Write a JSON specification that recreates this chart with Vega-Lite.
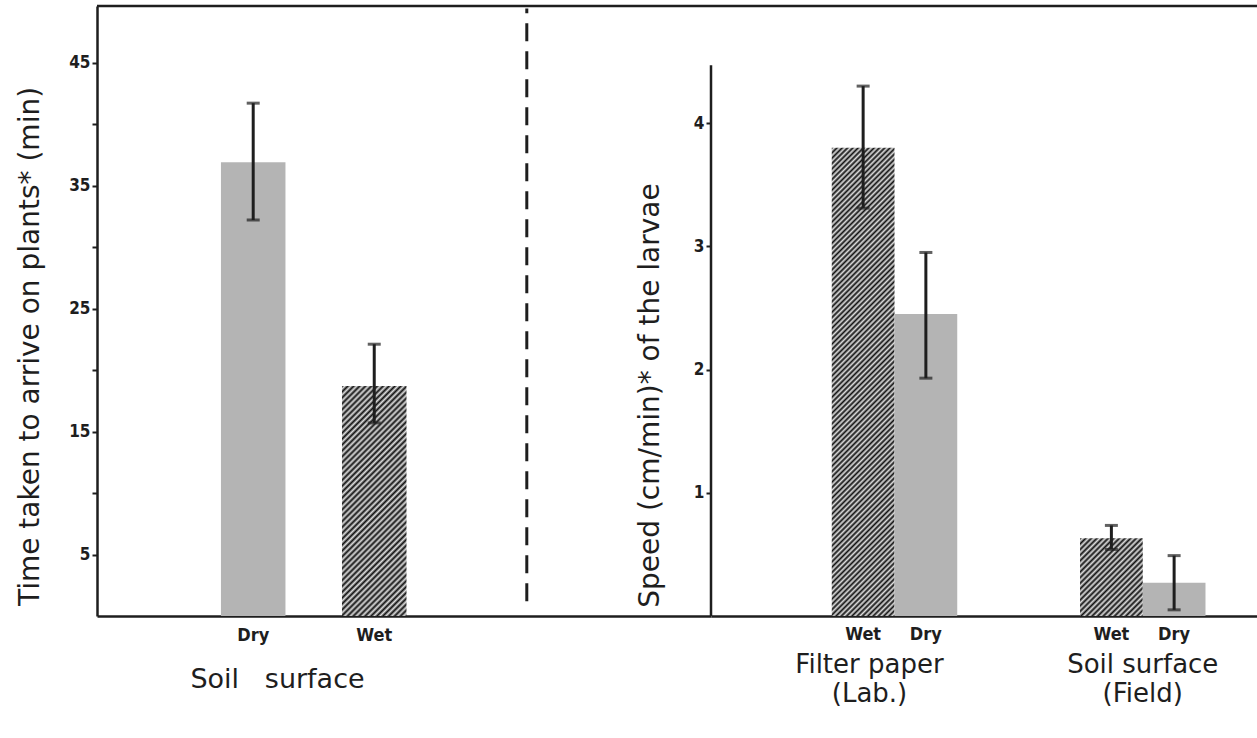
{
  "$schema": "https://vega.github.io/schema/vega-lite/v6.json",
  "padding": {"left": 16, "top": 4, "right": 0, "bottom": 5},
  "background": "white",
  "spacing": 0,
  "bounds": "flush",
  "datasets": {
    "time": [
      {"surface": "Soil surface", "condition": "Dry", "time": 36.9, "low": 32.2, "high": 41.7},
      {"surface": "Soil surface", "condition": "Wet", "time": 18.7, "low": 15.7, "high": 22.1}
    ],
    "speed": [
      {"substrate": "Filter paper (Lab.)", "condition": "Wet", "speed": 3.80, "low": 3.31, "high": 4.30},
      {"substrate": "Filter paper (Lab.)", "condition": "Dry", "speed": 2.45, "low": 1.93, "high": 2.95},
      {"substrate": "Soil surface (Field)", "condition": "Wet", "speed": 0.63, "low": 0.54, "high": 0.735},
      {"substrate": "Soil surface (Field)", "condition": "Dry", "speed": 0.27, "low": 0.05, "high": 0.49}
    ]
  },
  "config": {
    "view": {"stroke": null},
    "axis": {
      "grid": false,
      "domainColor": "#1e1e1e",
      "domainWidth": 2.5,
      "tickColor": "#1e1e1e",
      "labelColor": "#1e1e1e",
      "titleColor": "#1e1e1e"
    }
  },
  "hconcat": [
    {
      "width": 614,
      "height": 610,
      "layer": [
        {
          "data": {"name": "time"},
          "layer": [
            {
              "mark": {"type": "bar"},
              "encoding": {
                "x": {
                  "field": "condition", "type": "nominal",
                  "scale": {"domain": ["Dry", "Wet", " ", "  "], "paddingInner": 0.467, "paddingOuter": 0.77, "align": 0.665, "round": false},
                  "axis": {
                    "title": "Soil \u00a0 surface",
                    "titleFont": "DejaVu Sans", "titleFontSize": 27, "titleFontWeight": "normal",
                    "titleX": 180, "titlePadding": 22,
                    "labelFont": "DejaVu Sans Condensed", "labelFontSize": 18, "labelFontWeight": "bold",
                    "labelAngle": 0, "labelPadding": 10, "ticks": false, "tickSize": 0
                  }
                },
                "y": {
                  "field": "time", "type": "quantitative",
                  "scale": {"domain": [0, 49.6], "nice": false, "zero": true},
                  "axis": {
                    "title": "Time taken to arrive on plants* (min)",
                    "values": [5, 10, 15, 20, 25, 30, 35, 40, 45],
                    "labelExpr": "datum.value % 10 == 5 ? datum.label : ''",
                    "tickSize": 5, "tickWidth": 2, "labelPadding": 2,
                    "labelFont": "DejaVu Sans Condensed", "labelFontSize": 17, "labelFontWeight": "bold",
                    "titleFont": "DejaVu Sans", "titleFontSize": 28, "titleFontWeight": "normal",
                    "titleY": 340, "titlePadding": 24
                  }
                },
                "fill": {
                  "condition": {
                    "test": "datum.condition === 'Wet'",
                    "value": {
                      "gradient": "linear", "x1": 0, "y1": 0, "x2": 0.3329, "y2": 1.1871,
                      "stops": [
                        {"offset":0,"color":"#111"},{"offset":0.01,"color":"#ddd"},{"offset":0.02,"color":"#111"},{"offset":0.03,"color":"#ddd"},{"offset":0.04,"color":"#111"},{"offset":0.05,"color":"#ddd"},{"offset":0.06,"color":"#111"},{"offset":0.07,"color":"#ddd"},{"offset":0.08,"color":"#111"},{"offset":0.09,"color":"#ddd"},
                        {"offset":0.10,"color":"#111"},{"offset":0.11,"color":"#ddd"},{"offset":0.12,"color":"#111"},{"offset":0.13,"color":"#ddd"},{"offset":0.14,"color":"#111"},{"offset":0.15,"color":"#ddd"},{"offset":0.16,"color":"#111"},{"offset":0.17,"color":"#ddd"},{"offset":0.18,"color":"#111"},{"offset":0.19,"color":"#ddd"},
                        {"offset":0.20,"color":"#111"},{"offset":0.21,"color":"#ddd"},{"offset":0.22,"color":"#111"},{"offset":0.23,"color":"#ddd"},{"offset":0.24,"color":"#111"},{"offset":0.25,"color":"#ddd"},{"offset":0.26,"color":"#111"},{"offset":0.27,"color":"#ddd"},{"offset":0.28,"color":"#111"},{"offset":0.29,"color":"#ddd"},
                        {"offset":0.30,"color":"#111"},{"offset":0.31,"color":"#ddd"},{"offset":0.32,"color":"#111"},{"offset":0.33,"color":"#ddd"},{"offset":0.34,"color":"#111"},{"offset":0.35,"color":"#ddd"},{"offset":0.36,"color":"#111"},{"offset":0.37,"color":"#ddd"},{"offset":0.38,"color":"#111"},{"offset":0.39,"color":"#ddd"},
                        {"offset":0.40,"color":"#111"},{"offset":0.41,"color":"#ddd"},{"offset":0.42,"color":"#111"},{"offset":0.43,"color":"#ddd"},{"offset":0.44,"color":"#111"},{"offset":0.45,"color":"#ddd"},{"offset":0.46,"color":"#111"},{"offset":0.47,"color":"#ddd"},{"offset":0.48,"color":"#111"},{"offset":0.49,"color":"#ddd"},
                        {"offset":0.50,"color":"#111"},{"offset":0.51,"color":"#ddd"},{"offset":0.52,"color":"#111"},{"offset":0.53,"color":"#ddd"},{"offset":0.54,"color":"#111"},{"offset":0.55,"color":"#ddd"},{"offset":0.56,"color":"#111"},{"offset":0.57,"color":"#ddd"},{"offset":0.58,"color":"#111"},{"offset":0.59,"color":"#ddd"},
                        {"offset":0.60,"color":"#111"},{"offset":0.61,"color":"#ddd"},{"offset":0.62,"color":"#111"},{"offset":0.63,"color":"#ddd"},{"offset":0.64,"color":"#111"},{"offset":0.65,"color":"#ddd"},{"offset":0.66,"color":"#111"},{"offset":0.67,"color":"#ddd"},{"offset":0.68,"color":"#111"},{"offset":0.69,"color":"#ddd"},
                        {"offset":0.70,"color":"#111"},{"offset":0.71,"color":"#ddd"},{"offset":0.72,"color":"#111"},{"offset":0.73,"color":"#ddd"},{"offset":0.74,"color":"#111"},{"offset":0.75,"color":"#ddd"},{"offset":0.76,"color":"#111"},{"offset":0.77,"color":"#ddd"},{"offset":0.78,"color":"#111"},{"offset":0.79,"color":"#ddd"},
                        {"offset":0.80,"color":"#111"},{"offset":0.81,"color":"#ddd"},{"offset":0.82,"color":"#111"},{"offset":0.83,"color":"#ddd"},{"offset":0.84,"color":"#111"},{"offset":0.85,"color":"#ddd"},{"offset":0.86,"color":"#111"},{"offset":0.87,"color":"#ddd"},{"offset":0.88,"color":"#111"},{"offset":0.89,"color":"#ddd"},
                        {"offset":0.90,"color":"#111"},{"offset":0.91,"color":"#ddd"},{"offset":0.92,"color":"#111"},{"offset":0.93,"color":"#ddd"},{"offset":0.94,"color":"#111"},{"offset":0.95,"color":"#ddd"},{"offset":0.96,"color":"#111"},{"offset":0.97,"color":"#ddd"},{"offset":0.98,"color":"#111"},{"offset":0.99,"color":"#ddd"},
                        {"offset":1,"color":"#111"}
                      ]
                    }
                  },
                  "value": "#b4b4b4"
                }
              }
            },
            {
              "mark": {"type": "rule", "strokeWidth": 3, "color": "#1e1e1e"},
              "encoding": {
                "x": {"field": "condition", "type": "nominal"},
                "y": {"field": "low", "type": "quantitative"},
                "y2": {"field": "high"}
              }
            },
            {
              "mark": {"type": "tick", "thickness": 3, "size": 13, "color": "#1e1e1e"},
              "encoding": {
                "x": {"field": "condition", "type": "nominal"},
                "y": {"field": "high", "type": "quantitative"}
              }
            },
            {
              "mark": {"type": "tick", "thickness": 3, "size": 13, "color": "#1e1e1e"},
              "encoding": {
                "x": {"field": "condition", "type": "nominal"},
                "y": {"field": "low", "type": "quantitative"}
              }
            }
          ]
        },
        {
          "data": {"values": [{}]},
          "mark": {"type": "rule", "strokeDash": [18, 10], "strokeWidth": 3, "color": "#1e1e1e"},
          "encoding": {
            "x": {"datum": 0.7, "type": "quantitative", "scale": {"domain": [0, 1]}, "axis": null},
            "y": {"datum": 1.2, "type": "quantitative"},
            "y2": {"datum": 49.4}
          }
        },
        {
          "data": {"values": [{}]},
          "mark": {"type": "rule", "strokeWidth": 2.5, "color": "#1e1e1e"},
          "encoding": {
            "y": {"datum": 49.6, "type": "quantitative"}
          }
        }
      ],
      "resolve": {"scale": {"x": "independent"}}
    },
    {
      "width": 546,
      "height": 610,
      "layer": [
        {
          "data": {"name": "speed"},
          "layer": [
            {
              "mark": {"type": "bar"},
              "encoding": {
                "x": {
                  "field": "substrate", "type": "nominal",
                  "scale": {"domain": ["Filter paper (Lab.)", "Soil surface (Field)"], "paddingInner": 0.4946, "paddingOuter": 0.347, "align": 0.701, "round": false},
                  "axis": {
                    "title": null,
                    "labelExpr": "[substring(datum.label, 0, indexof(datum.label, ' (')), substring(datum.label, indexof(datum.label, ' (') + 1, length(datum.label))]",
                    "labelFont": "DejaVu Sans", "labelFontSize": 26, "labelFontWeight": "normal",
                    "labelLineHeight": 29,
                    "labelAngle": 0, "labelPadding": 35, "ticks": false, "tickSize": 0,
                    "labelOffset": {"condition": {"test": "datum.value === 'Filter paper (Lab.)'", "value": -25}, "value": 0}
                  }
                },
                "xOffset": {
                  "field": "condition", "type": "nominal",
                  "scale": {"domain": ["Wet", "Dry"], "paddingInner": 0, "paddingOuter": 0}
                },
                "y": {
                  "field": "speed", "type": "quantitative",
                  "scale": {"domain": [0, 4.95], "nice": false, "zero": true},
                  "axis": {
                    "title": "Speed (cm/min)* of the larvae",
                    "values": [1, 2, 3, 4],
                    "format": "d",
                    "domain": false,
                    "tickSize": 5, "tickWidth": 2, "labelPadding": 2,
                    "labelFont": "DejaVu Sans Condensed", "labelFontSize": 17, "labelFontWeight": "bold",
                    "titleFont": "DejaVu Sans", "titleFontSize": 28, "titleFontWeight": "normal",
                    "titleY": 389, "titlePadding": 29
                  }
                },
                "fill": {
                  "condition": [
                    {
                      "test": "datum.condition === 'Wet' && datum.substrate === 'Filter paper (Lab.)'",
                      "value": {
                        "gradient": "linear", "x1": 0, "y1": 0, "x2": 0.1493, "y2": 1.114,
                        "stops": [
                          {"offset":0,"color":"#111"},{"offset":0.005,"color":"#ddd"},{"offset":0.01,"color":"#111"},{"offset":0.015,"color":"#ddd"},{"offset":0.02,"color":"#111"},{"offset":0.025,"color":"#ddd"},{"offset":0.03,"color":"#111"},{"offset":0.035,"color":"#ddd"},{"offset":0.04,"color":"#111"},{"offset":0.045,"color":"#ddd"},
                          {"offset":0.05,"color":"#111"},{"offset":0.055,"color":"#ddd"},{"offset":0.06,"color":"#111"},{"offset":0.065,"color":"#ddd"},{"offset":0.07,"color":"#111"},{"offset":0.075,"color":"#ddd"},{"offset":0.08,"color":"#111"},{"offset":0.085,"color":"#ddd"},{"offset":0.09,"color":"#111"},{"offset":0.095,"color":"#ddd"},
                          {"offset":0.10,"color":"#111"},{"offset":0.105,"color":"#ddd"},{"offset":0.11,"color":"#111"},{"offset":0.115,"color":"#ddd"},{"offset":0.12,"color":"#111"},{"offset":0.125,"color":"#ddd"},{"offset":0.13,"color":"#111"},{"offset":0.135,"color":"#ddd"},{"offset":0.14,"color":"#111"},{"offset":0.145,"color":"#ddd"},
                          {"offset":0.15,"color":"#111"},{"offset":0.155,"color":"#ddd"},{"offset":0.16,"color":"#111"},{"offset":0.165,"color":"#ddd"},{"offset":0.17,"color":"#111"},{"offset":0.175,"color":"#ddd"},{"offset":0.18,"color":"#111"},{"offset":0.185,"color":"#ddd"},{"offset":0.19,"color":"#111"},{"offset":0.195,"color":"#ddd"},
                          {"offset":0.20,"color":"#111"},{"offset":0.205,"color":"#ddd"},{"offset":0.21,"color":"#111"},{"offset":0.215,"color":"#ddd"},{"offset":0.22,"color":"#111"},{"offset":0.225,"color":"#ddd"},{"offset":0.23,"color":"#111"},{"offset":0.235,"color":"#ddd"},{"offset":0.24,"color":"#111"},{"offset":0.245,"color":"#ddd"},
                          {"offset":0.25,"color":"#111"},{"offset":0.255,"color":"#ddd"},{"offset":0.26,"color":"#111"},{"offset":0.265,"color":"#ddd"},{"offset":0.27,"color":"#111"},{"offset":0.275,"color":"#ddd"},{"offset":0.28,"color":"#111"},{"offset":0.285,"color":"#ddd"},{"offset":0.29,"color":"#111"},{"offset":0.295,"color":"#ddd"},
                          {"offset":0.30,"color":"#111"},{"offset":0.305,"color":"#ddd"},{"offset":0.31,"color":"#111"},{"offset":0.315,"color":"#ddd"},{"offset":0.32,"color":"#111"},{"offset":0.325,"color":"#ddd"},{"offset":0.33,"color":"#111"},{"offset":0.335,"color":"#ddd"},{"offset":0.34,"color":"#111"},{"offset":0.345,"color":"#ddd"},
                          {"offset":0.35,"color":"#111"},{"offset":0.355,"color":"#ddd"},{"offset":0.36,"color":"#111"},{"offset":0.365,"color":"#ddd"},{"offset":0.37,"color":"#111"},{"offset":0.375,"color":"#ddd"},{"offset":0.38,"color":"#111"},{"offset":0.385,"color":"#ddd"},{"offset":0.39,"color":"#111"},{"offset":0.395,"color":"#ddd"},
                          {"offset":0.40,"color":"#111"},{"offset":0.405,"color":"#ddd"},{"offset":0.41,"color":"#111"},{"offset":0.415,"color":"#ddd"},{"offset":0.42,"color":"#111"},{"offset":0.425,"color":"#ddd"},{"offset":0.43,"color":"#111"},{"offset":0.435,"color":"#ddd"},{"offset":0.44,"color":"#111"},{"offset":0.445,"color":"#ddd"},
                          {"offset":0.45,"color":"#111"},{"offset":0.455,"color":"#ddd"},{"offset":0.46,"color":"#111"},{"offset":0.465,"color":"#ddd"},{"offset":0.47,"color":"#111"},{"offset":0.475,"color":"#ddd"},{"offset":0.48,"color":"#111"},{"offset":0.485,"color":"#ddd"},{"offset":0.49,"color":"#111"},{"offset":0.495,"color":"#ddd"},
                          {"offset":0.50,"color":"#111"},{"offset":0.505,"color":"#ddd"},{"offset":0.51,"color":"#111"},{"offset":0.515,"color":"#ddd"},{"offset":0.52,"color":"#111"},{"offset":0.525,"color":"#ddd"},{"offset":0.53,"color":"#111"},{"offset":0.535,"color":"#ddd"},{"offset":0.54,"color":"#111"},{"offset":0.545,"color":"#ddd"},
                          {"offset":0.55,"color":"#111"},{"offset":0.555,"color":"#ddd"},{"offset":0.56,"color":"#111"},{"offset":0.565,"color":"#ddd"},{"offset":0.57,"color":"#111"},{"offset":0.575,"color":"#ddd"},{"offset":0.58,"color":"#111"},{"offset":0.585,"color":"#ddd"},{"offset":0.59,"color":"#111"},{"offset":0.595,"color":"#ddd"},
                          {"offset":0.60,"color":"#111"},{"offset":0.605,"color":"#ddd"},{"offset":0.61,"color":"#111"},{"offset":0.615,"color":"#ddd"},{"offset":0.62,"color":"#111"},{"offset":0.625,"color":"#ddd"},{"offset":0.63,"color":"#111"},{"offset":0.635,"color":"#ddd"},{"offset":0.64,"color":"#111"},{"offset":0.645,"color":"#ddd"},
                          {"offset":0.65,"color":"#111"},{"offset":0.655,"color":"#ddd"},{"offset":0.66,"color":"#111"},{"offset":0.665,"color":"#ddd"},{"offset":0.67,"color":"#111"},{"offset":0.675,"color":"#ddd"},{"offset":0.68,"color":"#111"},{"offset":0.685,"color":"#ddd"},{"offset":0.69,"color":"#111"},{"offset":0.695,"color":"#ddd"},
                          {"offset":0.70,"color":"#111"},{"offset":0.705,"color":"#ddd"},{"offset":0.71,"color":"#111"},{"offset":0.715,"color":"#ddd"},{"offset":0.72,"color":"#111"},{"offset":0.725,"color":"#ddd"},{"offset":0.73,"color":"#111"},{"offset":0.735,"color":"#ddd"},{"offset":0.74,"color":"#111"},{"offset":0.745,"color":"#ddd"},
                          {"offset":0.75,"color":"#111"},{"offset":0.755,"color":"#ddd"},{"offset":0.76,"color":"#111"},{"offset":0.765,"color":"#ddd"},{"offset":0.77,"color":"#111"},{"offset":0.775,"color":"#ddd"},{"offset":0.78,"color":"#111"},{"offset":0.785,"color":"#ddd"},{"offset":0.79,"color":"#111"},{"offset":0.795,"color":"#ddd"},
                          {"offset":0.80,"color":"#111"},{"offset":0.805,"color":"#ddd"},{"offset":0.81,"color":"#111"},{"offset":0.815,"color":"#ddd"},{"offset":0.82,"color":"#111"},{"offset":0.825,"color":"#ddd"},{"offset":0.83,"color":"#111"},{"offset":0.835,"color":"#ddd"},{"offset":0.84,"color":"#111"},{"offset":0.845,"color":"#ddd"},
                          {"offset":0.85,"color":"#111"},{"offset":0.855,"color":"#ddd"},{"offset":0.86,"color":"#111"},{"offset":0.865,"color":"#ddd"},{"offset":0.87,"color":"#111"},{"offset":0.875,"color":"#ddd"},{"offset":0.88,"color":"#111"},{"offset":0.885,"color":"#ddd"},{"offset":0.89,"color":"#111"},{"offset":0.895,"color":"#ddd"},
                          {"offset":0.90,"color":"#111"},{"offset":0.905,"color":"#ddd"},{"offset":0.91,"color":"#111"},{"offset":0.915,"color":"#ddd"},{"offset":0.92,"color":"#111"},{"offset":0.925,"color":"#ddd"},{"offset":0.93,"color":"#111"},{"offset":0.935,"color":"#ddd"},{"offset":0.94,"color":"#111"},{"offset":0.945,"color":"#ddd"},
                          {"offset":0.95,"color":"#111"},{"offset":0.955,"color":"#ddd"},{"offset":0.96,"color":"#111"},{"offset":0.965,"color":"#ddd"},{"offset":0.97,"color":"#111"},{"offset":0.975,"color":"#ddd"},{"offset":0.98,"color":"#111"},{"offset":0.985,"color":"#ddd"},{"offset":0.99,"color":"#111"},{"offset":0.995,"color":"#ddd"},
                          {"offset":1,"color":"#111"}
                        ]
                      }
                    },
                    {
                      "test": "datum.condition === 'Wet'",
                      "value": {
                        "gradient": "linear", "x1": 0, "y1": 0, "x2": 0.8843, "y2": 1.0936,
                        "stops": [
                          {"offset":0,"color":"#111"},{"offset":0.02,"color":"#ddd"},{"offset":0.04,"color":"#111"},{"offset":0.06,"color":"#ddd"},{"offset":0.08,"color":"#111"},{"offset":0.10,"color":"#ddd"},{"offset":0.12,"color":"#111"},{"offset":0.14,"color":"#ddd"},{"offset":0.16,"color":"#111"},{"offset":0.18,"color":"#ddd"},
                          {"offset":0.20,"color":"#111"},{"offset":0.22,"color":"#ddd"},{"offset":0.24,"color":"#111"},{"offset":0.26,"color":"#ddd"},{"offset":0.28,"color":"#111"},{"offset":0.30,"color":"#ddd"},{"offset":0.32,"color":"#111"},{"offset":0.34,"color":"#ddd"},{"offset":0.36,"color":"#111"},{"offset":0.38,"color":"#ddd"},
                          {"offset":0.40,"color":"#111"},{"offset":0.42,"color":"#ddd"},{"offset":0.44,"color":"#111"},{"offset":0.46,"color":"#ddd"},{"offset":0.48,"color":"#111"},{"offset":0.50,"color":"#ddd"},{"offset":0.52,"color":"#111"},{"offset":0.54,"color":"#ddd"},{"offset":0.56,"color":"#111"},{"offset":0.58,"color":"#ddd"},
                          {"offset":0.60,"color":"#111"},{"offset":0.62,"color":"#ddd"},{"offset":0.64,"color":"#111"},{"offset":0.66,"color":"#ddd"},{"offset":0.68,"color":"#111"},{"offset":0.70,"color":"#ddd"},{"offset":0.72,"color":"#111"},{"offset":0.74,"color":"#ddd"},{"offset":0.76,"color":"#111"},{"offset":0.78,"color":"#ddd"},
                          {"offset":0.80,"color":"#111"},{"offset":0.82,"color":"#ddd"},{"offset":0.84,"color":"#111"},{"offset":0.86,"color":"#ddd"},{"offset":0.88,"color":"#111"},{"offset":0.90,"color":"#ddd"},{"offset":0.92,"color":"#111"},{"offset":0.94,"color":"#ddd"},{"offset":0.96,"color":"#111"},{"offset":0.98,"color":"#ddd"},
                          {"offset":1,"color":"#111"}
                        ]
                      }
                    }
                  ],
                  "value": "#b4b4b4"
                }
              }
            },
            {
              "mark": {"type": "rule", "strokeWidth": 3, "color": "#1e1e1e"},
              "encoding": {
                "x": {"field": "substrate", "type": "nominal"},
                "xOffset": {"field": "condition", "type": "nominal"},
                "y": {"field": "low", "type": "quantitative"},
                "y2": {"field": "high"}
              }
            },
            {
              "mark": {"type": "tick", "thickness": 3, "size": 13, "color": "#1e1e1e"},
              "encoding": {
                "x": {"field": "substrate", "type": "nominal"},
                "xOffset": {"field": "condition", "type": "nominal"},
                "y": {"field": "high", "type": "quantitative"}
              }
            },
            {
              "mark": {"type": "tick", "thickness": 3, "size": 13, "color": "#1e1e1e"},
              "encoding": {
                "x": {"field": "substrate", "type": "nominal"},
                "xOffset": {"field": "condition", "type": "nominal"},
                "y": {"field": "low", "type": "quantitative"}
              }
            },
            {
              "mark": {"type": "text", "baseline": "top", "dy": 10, "font": "DejaVu Sans Condensed", "fontSize": 18, "fontWeight": "bold", "color": "#1e1e1e"},
              "encoding": {
                "x": {"field": "substrate", "type": "nominal"},
                "xOffset": {"field": "condition", "type": "nominal"},
                "y": {"datum": 0, "type": "quantitative"},
                "text": {"field": "condition"}
              }
            }
          ]
        },
        {
          "data": {"values": [{}]},
          "mark": {"type": "rule", "strokeWidth": 2.5, "color": "#1e1e1e"},
          "encoding": {
            "x": {"datum": 0, "type": "quantitative", "scale": {"domain": [0, 1]}, "axis": null},
            "y": {"datum": 0, "type": "quantitative"},
            "y2": {"datum": 4.47}
          }
        },
        {
          "data": {"values": [{}]},
          "mark": {"type": "rule", "strokeWidth": 2.5, "color": "#1e1e1e"},
          "encoding": {
            "y": {"datum": 4.95, "type": "quantitative"}
          }
        }
      ],
      "resolve": {"scale": {"x": "independent"}}
    }
  ]
}
